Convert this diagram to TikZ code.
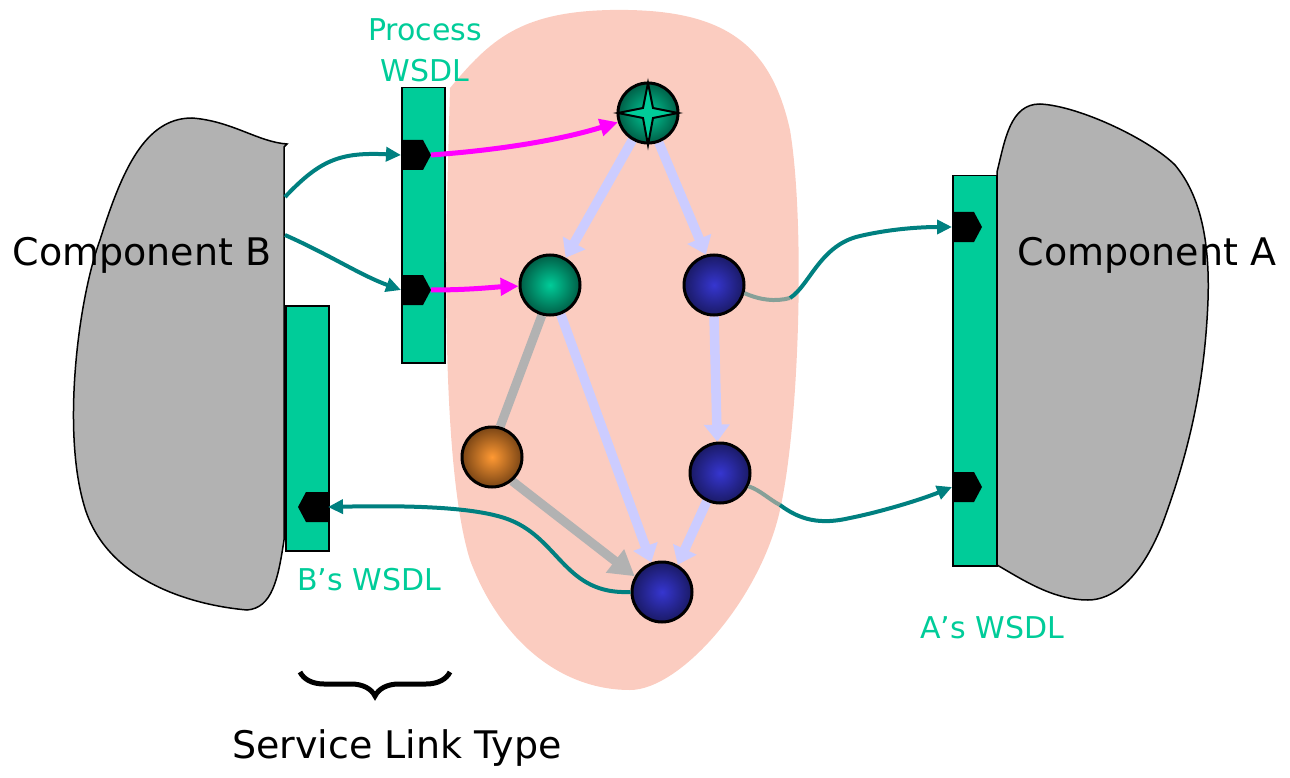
\documentclass[tikz,border=0pt]{standalone}
\usepackage{fontspec}
\setmainfont{DejaVu Sans}
\usetikzlibrary{arrows.meta,decorations.pathreplacing,calc}
\definecolor{wsdl}{HTML}{00CC99}
\definecolor{tealc}{HTML}{008080}
\definecolor{salmon}{HTML}{FBCCC0}
\definecolor{blobgray}{HTML}{B2B2B2}
\definecolor{lav}{HTML}{CCCCFF}
\definecolor{edgegray}{HTML}{B2B2B2}
\definecolor{linkgray}{HTML}{86A098}
\definecolor{magen}{HTML}{FF00FF}
\definecolor{bluein}{HTML}{3636D0}
\definecolor{blueout}{HTML}{1A1A66}
\definecolor{orangein}{HTML}{FF9933}
\definecolor{orangeout}{HTML}{7A4515}
\definecolor{greenout}{HTML}{005E46}
\pgfdeclarelayer{bg}
\pgfdeclarelayer{edges}
\pgfsetlayers{bg,edges,main}
\begin{document}
\begin{tikzpicture}[x=1pt,y=-1pt,
  wsdlbox/.style={fill=wsdl,draw=black,line width=1.5pt,inner sep=0pt,anchor=north west},
  blobstyle/.style={fill=blobgray,draw=black,line width=1.5pt},
  ballnode/.style={circle,draw=black,line width=3pt,minimum size=60pt,inner sep=0pt},
  greenball/.style={ballnode,inner color=wsdl,outer color=greenout},
  blueball/.style={ballnode,inner color=bluein,outer color=blueout},
  orangeball/.style={ballnode,inner color=orangein,outer color=orangeout},
  lavarrow/.style={draw=lav,line width=9.5pt,-{Triangle[length=17pt,width=25pt]}},
  grayarrow/.style={draw=edgegray,line width=9pt,-{Triangle[length=25pt,width=28pt]}},
  grayline/.style={draw=edgegray,line width=9pt},
  tealarrow/.style={draw=tealc,line width=4pt,-{Triangle[length=15pt,width=14pt]}},
  linkline/.style={draw=linkgray,line width=4pt},
  magarrow/.style={draw=magen,line width=5pt,-{Triangle[length=18pt,width=17pt]}},
  biglabel/.style={font=\fontsize{38}{44}\selectfont,text=black,inner sep=0pt},
  wsdllabel/.style={font=\fontsize{30}{41}\selectfont,text=wsdl,inner sep=0pt,align=center},
  portright/.pic={\fill[black] (0,-15) -- (22,-15) -- (30,0) -- (22,15) -- (0,15) -- cycle;},
  portleft/.pic={\fill[black] (0,-15) -- (-22,-15) -- (-30,0) -- (-22,15) -- (0,15) -- cycle;}
]
\useasboundingbox (0,0) rectangle (1290,778);

\begin{pgfonlayer}{bg}
% process region
\fill[salmon] (450,88) .. controls (490,40) and (520,12) .. (610,10)
  .. controls (720,8) and (770,40) .. (790,130)
  .. controls (805,220) and (800,420) .. (780,510)
  .. controls (760,600) and (680,690) .. (630,690)
  .. controls (560,690) and (500,640) .. (470,560)
  .. controls (445,480) and (445,300) .. (447,200) -- cycle;
\end{pgfonlayer}

% component blobs
\path[blobstyle] (284,147) -- (284,540) .. controls (278,580) and (272,608) .. (247,610)
  .. controls (190,605) and (105,580) .. (84,505)
  .. controls (62,430) and (78,300) .. (100,240)
  .. controls (122,170) and (145,118) .. (192,118)
  .. controls (232,121) and (258,142) .. (287,144) -- cycle;
\path[blobstyle] (997,172) .. controls (1005,140) and (1010,104) .. (1040,104)
  .. controls (1080,106) and (1150,140) .. (1175,165)
  .. controls (1200,195) and (1210,240) .. (1208,300)
  .. controls (1205,380) and (1190,450) .. (1162,525)
  .. controls (1140,580) and (1112,600) .. (1088,600)
  .. controls (1052,600) and (1020,578) .. (997,565) -- cycle;

% WSDL boxes
\node[wsdlbox,minimum width=43pt,minimum height=275pt] (pw) at (401,87) {};
\node[wsdlbox,minimum width=43pt,minimum height=245pt] (bw) at (285,305) {};
\node[wsdlbox,minimum width=44pt,minimum height=390pt] (aw) at (952,175) {};

% ports
\coordinate (pp1) at (401,155);
\coordinate (pp2) at (401,290);
\coordinate (bp) at (328,507);
\coordinate (ap1) at (952,227);
\coordinate (ap2) at (952,487);
\path (pp1) pic {portright};
\path (pp2) pic {portright};
\path (bp) pic {portleft};
\path (ap1) pic {portright};
\path (ap2) pic {portright};
\coordinate (pt1) at (431,155);
\coordinate (pt2) at (431,290);

% balls
\node[greenball] (star) at (648,113) {};
\begin{scope}[shift={(star.center)}]
  \filldraw[fill=wsdl,draw=black,line width=2pt] (0,-30) -- (5,-5) -- (30,0) -- (5,5) -- (0,32) -- (-5,5) -- (-30,0) -- (-5,-5) -- cycle;
\end{scope}
\node[greenball] (green) at (550,285) {};
\node[blueball] (blueA) at (714,285) {};
\node[orangeball] (orange) at (492,457) {};
\node[blueball] (blueB) at (720,473) {};
\node[blueball] (blueC) at (662,592) {};

% control-flow edges (behind balls)
\begin{pgfonlayer}{edges}
\draw[lavarrow] (star.-120) -- (green.60);
\draw[lavarrow] (star.-70) -- (blueA.105);
\draw[lavarrow] (blueA.-90) -- (blueB.95);
\draw[lavarrow] (green.-70) -- (blueC.110);
\draw[lavarrow] (blueB.-115) -- (blueC.60);
\draw[grayline] (green.-105) -- (orange.75);
\draw[grayarrow] (orange.-50) -- (blueC.150);
\end{pgfonlayer}

% texts
\node[biglabel] (lblB) at (142,255) {Component B};
\node[biglabel] (lblA) at (1147,255) {Component A};
\node[wsdllabel] (lblP) at (425,50) {Process\\WSDL};
\node[wsdllabel] (lblBW) at (369,580) {B’s WSDL};
\node[wsdllabel] (lblAW) at (992,628) {A’s WSDL};
\node[biglabel] (lblS) at (397,748) {Service Link Type};

% brace
\coordinate (brL) at (300,672);
\coordinate (brR) at (450,672);
\draw[line width=5pt,decorate,decoration={brace,mirror,amplitude=24pt}] (brL) -- (brR);

% connectors from B
\coordinate (bo1) at (285,197);
\coordinate (bo2) at (285,235);
\draw[tealarrow] (bo1) .. controls (320,160) and (340,152) .. (pp1);
\draw[tealarrow] (bo2) .. controls (330,255) and (360,275) .. (pp2);

% magenta
\draw[magarrow] (pt1) .. controls (500,150) and (560,140) .. (star);
\draw[magarrow] (pt2) .. controls (470,290) and (495,287) .. (green);

% links to A
\coordinate (j1) at (790,298);
\coordinate (j2) at (780,505);
\draw[linkline] (blueA.-15) .. controls (760,300) and (775,302) .. (j1);
\draw[tealarrow] (j1) .. controls (810,285) and (820,245) .. (860,236) .. controls (890,229) and (920,227) .. (ap1);
\draw[linkline] (blueB.-25) .. controls (760,490) and (770,500) .. (j2);
\draw[tealarrow] (j2) .. controls (800,520) and (820,525) .. (850,518) .. controls (880,512) and (920,500) .. (ap2);

% link back to B
\draw[tealarrow] (blueC.west) .. controls (565,595) and (560,540) .. (510,520) .. controls (480,508) and (420,505) .. (bp);
\end{tikzpicture}
\end{document}
